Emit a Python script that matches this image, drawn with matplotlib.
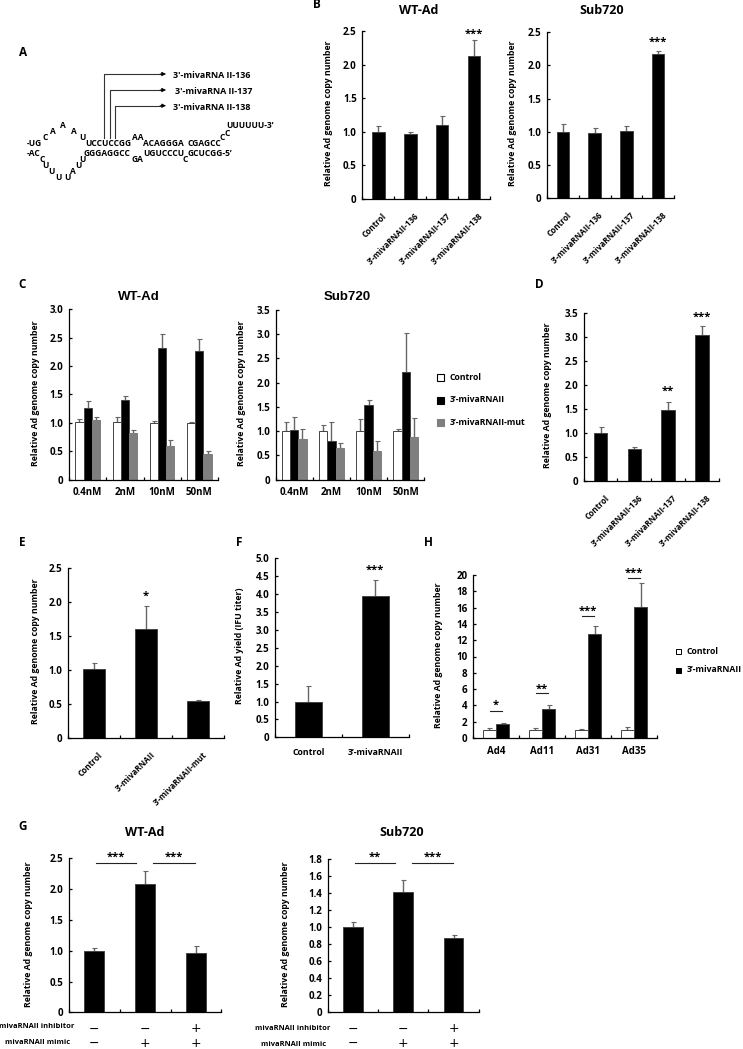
#!/usr/bin/env python3

import matplotlib
matplotlib.use("Agg")
import matplotlib.pyplot as plt
import numpy as np

W, H = 743, 1049
FS = 7.0
LABEL_FS = 6.3
ROT_FS = 5.9
RNA_FS = 6.0
STAR_FS = 8.0
LEGEND_FS = 6.2
GREY = "#7f7f7f"

plt.rcParams["font.family"] = ["Open Sans", "DejaVu Sans"]
plt.rcParams["font.weight"] = "bold"
plt.rcParams["axes.labelweight"] = "bold"
plt.rcParams["font.size"] = FS

mir_labels = ["Control", "3’-mivaRNAII-136", "3’-mivaRNAII-137", "3’-mivaRNAII-138"]
conc_labels = ["0.4nM", "2nM", "10nM", "50nM"]
ad_labels = ["Ad4", "Ad11", "Ad31", "Ad35"]
e_labels = ["Control", "3’-mivaRNAII", "3’-mivaRNAII-mut"]
f_labels = ["Control", "3’-mivaRNAII"]

b_wt = [1.0, 0.97, 1.10, 2.12]
b_wt_top = [1.09, 1.0, 1.24, 2.36]
b_sub = [1.0, 0.98, 1.01, 2.17]
b_sub_top = [1.11, 1.05, 1.08, 2.22]

c_wt_ctrl = [1.01, 1.01, 1.0, 1.0]
c_wt_ctrl_top = [1.06, 1.10, 1.04, 1.01]
c_wt_miva = [1.26, 1.41, 2.32, 2.27]
c_wt_miva_top = [1.39, 1.48, 2.56, 2.47]
c_wt_mut = [1.05, 0.82, 0.59, 0.46]
c_wt_mut_top = [1.11, 0.88, 0.70, 0.50]

c_sub_ctrl = [1.0, 1.0, 1.0, 1.0]
c_sub_ctrl_top = [1.18, 1.12, 1.25, 1.05]
c_sub_miva = [1.03, 0.79, 1.55, 2.22]
c_sub_miva_top = [1.30, 1.19, 1.65, 3.03]
c_sub_mut = [0.83, 0.65, 0.60, 0.89]
c_sub_mut_top = [1.05, 0.75, 0.80, 1.28]

d_vals = [1.0, 0.68, 1.48, 3.05]
d_top = [1.13, 0.72, 1.64, 3.24]
e_vals = [1.01, 1.6, 0.55]
e_top = [1.11, 1.95, 0.56]
f_vals = [1.0, 3.95]
f_top = [1.43, 4.38]

h_ctrl = [1.0, 1.0, 1.0, 1.0]
h_ctrl_top = [1.2, 1.2, 1.15, 1.3]
h_miva = [1.7, 3.5, 12.8, 16.1]
h_miva_top = [1.9, 4.0, 13.8, 19.0]

g_wt = [1.0, 2.09, 0.97]
g_wt_top = [1.04, 2.29, 1.07]
g_sub = [1.0, 1.41, 0.87]
g_sub_top = [1.06, 1.55, 0.91]
g_inhibitor = ["−", "−", "+"]
g_mimic = ["−", "+", "+"]

fig = plt.figure(figsize=(W / 100, H / 100), dpi=100, facecolor="white")

# overlay in image pixels, for the panel letters and the RNA sketch
ov = fig.add_axes([0, 0, 1, 1], zorder=5)
ov.set_xlim(0, W)
ov.set_ylim(H, 0)
ov.axis("off")
ov.patch.set_alpha(0)


def make_axes(left, right, top, bottom, ymax, step, ylabel, label_x, labels, ypad=4):
    ax = fig.add_axes([left / W, 1 - bottom / H, (right - left) / W, (bottom - top) / H])
    n = len(labels)
    ax.set_xlim(-0.5, n - 0.5)
    ax.set_ylim(0, ymax)
    ticks = np.arange(0, ymax + step / 2, step)
    ax.set_yticks(ticks)
    ax.set_yticklabels(["0" if t == 0 else (f"{t:.0f}" if step >= 1 else f"{t:.1f}") for t in ticks])
    ax.set_xticks(np.arange(n + 1) - 0.5)
    ax.set_xticklabels([])
    ax.tick_params(axis="both", direction="in", length=2.5, width=0.9, pad=ypad)
    ax.spines[["top", "right"]].set_visible(False)
    ax.spines[["left", "bottom"]].set_linewidth(0.9)
    ax.set_ylabel(ylabel, fontsize=LABEL_FS)
    ax.yaxis.set_label_coords((label_x - left) / (right - left), 0.51)
    return ax


def bars(ax, x, vals, tops, width, color="black", edge="#444444"):
    err = np.array(tops) - np.array(vals)
    ax.bar(x, vals, width, color=color, edgecolor=edge, linewidth=0.7, zorder=2)
    ax.errorbar(x, vals, yerr=[np.zeros_like(err), err], fmt="none", ecolor="#666666",
                elinewidth=1.0, capsize=1.8, capthick=0.8, zorder=1)


def rot_labels(ax, labels):
    for i, s in enumerate(labels):
        ax.annotate(s, (i, 0), xytext=(3, -9), textcoords="offset points", xycoords=("data", "axes fraction"),
                    rotation=45, ha="right", va="top", rotation_mode="anchor", fontsize=ROT_FS)


def flat_labels(ax, labels, offset=-9, fs=FS):
    for i, s in enumerate(labels):
        ax.annotate(s, (i, 0), xytext=(0, offset), textcoords="offset points", xycoords=("data", "axes fraction"),
                    ha="center", va="center", fontsize=fs)


def stars(ax, x, y, s):
    # asterisks sit high in the glyph box, nudge them down to the read position
    ax.annotate(s, (x, y), xytext=(0, -1.5), textcoords="offset points", ha="center", va="center",
                fontsize=STAR_FS, annotation_clip=False)


def sig_line(ax, x0, x1, y):
    ax.plot([x0, x1], [y, y], color="#222222", lw=0.8, clip_on=False)


YL = "Relative Ad genome copy number"

# B
ax = make_axes(362.3, 490, 31, 198.7, 2.5, 0.5, YL, 332.7, mir_labels)
bars(ax, range(4), b_wt, b_wt_top, 0.4)
rot_labels(ax, mir_labels)
stars(ax, 3, 2.49, "***")

ax = make_axes(547, 674, 32.3, 198, 2.5, 0.5, YL, 517, mir_labels)
bars(ax, range(4), b_sub, b_sub_top, 0.4)
rot_labels(ax, mir_labels)
stars(ax, 3, 2.38, "***")

# C
x4 = np.arange(4)
ax = make_axes(69, 218, 309.3, 479.7, 3.0, 0.5, YL, 40, conc_labels)
bars(ax, x4 - 0.22, c_wt_ctrl, c_wt_ctrl_top, 0.22, "white")
bars(ax, x4, c_wt_miva, c_wt_miva_top, 0.22)
bars(ax, x4 + 0.22, c_wt_mut, c_wt_mut_top, 0.22, GREY, GREY)
flat_labels(ax, conc_labels)

ax = make_axes(275.7, 424.3, 310, 479.7, 3.5, 0.5, YL, 246, conc_labels)
bars(ax, x4 - 0.22, c_sub_ctrl, c_sub_ctrl_top, 0.22, "white")
bars(ax, x4, c_sub_miva, c_sub_miva_top, 0.22)
bars(ax, x4 + 0.22, c_sub_mut, c_sub_mut_top, 0.22, GREY, GREY)
flat_labels(ax, conc_labels)

# D
ax = make_axes(583.7, 718.7, 313, 481.3, 3.5, 0.5, YL, 552, mir_labels)
bars(ax, range(4), d_vals, d_top, 0.4)
rot_labels(ax, mir_labels)
stars(ax, 2, 1.91, "**")
stars(ax, 3, 3.46, "***")

# E
ax = make_axes(68, 224.3, 568.3, 738, 2.5, 0.5, YL, 40, e_labels)
bars(ax, range(3), e_vals, e_top, 0.42)
rot_labels(ax, e_labels)
stars(ax, 1, 2.12, "*")

# F
ax = make_axes(274.7, 408.7, 558.3, 737.3, 5.0, 0.5, "Relative Ad yield (IFU titer)", 243.7, f_labels)
bars(ax, range(2), f_vals, f_top, 0.4)
flat_labels(ax, f_labels, -11, 6.3)
stars(ax, 1, 4.72, "***")

# H
ax = make_axes(473, 657, 575, 738, 20, 2, YL, 442.7, ad_labels)
bars(ax, x4 - 0.145, h_ctrl, h_ctrl_top, 0.29, "white")
bars(ax, x4 + 0.145, h_miva, h_miva_top, 0.29)
flat_labels(ax, ad_labels, -10)
for i, (line_y, star_y, s) in enumerate([(3.3, 4.3, "*"), (5.5, 6.3, "**"), (15.0, 15.8, "***"), (19.6, 20.5, "***")]):
    sig_line(ax, i - 0.14, i + 0.14, line_y)
    stars(ax, i, star_y, s)

# G
for left, right, top, bottom, ymax, step, lab_x, vals, tops, sig, line_y, star_y, x_l, x_r in [
    (69, 221.3, 858.3, 1012.3, 2.5, 0.5, 33, g_wt, g_wt_top, "***", 2.42, 2.55, (0.03, 0.82), (1.16, 1.98)),
    (327.7, 478.7, 859, 1012.3, 1.8, 0.2, 290, g_sub, g_sub_top, "**", 1.75, 1.85, (0.04, 0.83), (1.18, 1.98)),
]:
    ax = make_axes(left, right, top, bottom, ymax, step, YL, lab_x, g_inhibitor)
    bars(ax, range(3), vals, tops, 0.39)
    sig_line(ax, x_l[0], x_l[1], line_y)
    sig_line(ax, x_r[0], x_r[1], line_y)
    stars(ax, sum(x_l) / 2, star_y, sig)
    stars(ax, sum(x_r) / 2, star_y, "***")
    for i in range(3):
        ax.annotate(g_inhibitor[i], (i, 0), xytext=(0, -12), textcoords="offset points",
                    xycoords=("data", "axes fraction"), ha="center", va="center", fontsize=9, family="DejaVu Sans", weight="normal")
        ax.annotate(g_mimic[i], (i, 0), xytext=(0, -22.5), textcoords="offset points",
                    xycoords=("data", "axes fraction"), ha="center", va="center", fontsize=9, family="DejaVu Sans", weight="normal")

# legends, drawn as patches on the overlay
for y, col, edge, s in [(377, "white", "black", "Control"), (400, "black", "black", "3’-mivaRNAII"),
                        (422.7, GREY, GREY, "3’-mivaRNAII-mut")]:
    ov.add_patch(plt.Rectangle((437, y - 3.5), 7, 7, facecolor=col, edgecolor=edge, lw=0.8))
    ov.text(450, y, s, va="center", fontsize=LEGEND_FS)
for y, col, s in [(651.7, "white", "Control"), (670, "black", "3’-mivaRNAII")]:
    ov.add_patch(plt.Rectangle((675.5, y - 2.5), 5, 5, facecolor=col, edgecolor="black", lw=0.7))
    ov.text(686.7, y, s, va="center", fontsize=LEGEND_FS)

# panel letters and titles
for s, x, y in [("A", 23, 52), ("B", 317, 5), ("C", 22, 285), ("D", 539, 285), ("E", 22, 543),
                ("F", 239, 543), ("H", 428, 543), ("G", 23, 827)]:
    ov.text(x, y, s, ha="center", va="center", fontsize=8.5)
for s, x, y in [("WT-Ad", 419, 10), ("Sub720", 602, 10), ("WT-Ad", 145, 832), ("Sub720", 402, 832)]:
    ov.text(x, y, s, ha="center", va="center", fontsize=9)
for s, x, y in [("WT-Ad", 139, 297), ("Sub720", 347, 297)]:
    ov.text(x, y, s, ha="center", va="center", fontsize=9.5, family="Liberation Sans")

# G row labels
for x, s, y in [(74, "mivaRNAII inhibitor", 1026.7), (69.7, "mivaRNAII mimic", 1042.7),
                (330.7, "mivaRNAII inhibitor", 1028), (326, "mivaRNAII mimic", 1044)]:
    ov.text(x, y, s, ha="right", va="center", fontsize=5.4)

# panel A
rna_left = [("-UG", 27, 143), ("UCCUCCGG", 85, 143), ("AA", 132, 138), ("ACAGGGA", 143, 143), ("CGAGCC", 187, 143),
            ("UUUUUU-3’", 226, 125), ("-AC", 27, 154), ("GGGAGGCC", 84, 154), ("GA", 132, 160), ("UGUCCCU", 143, 154),
            ("GCUCGG-5’", 187, 154)]
rna_single = [("C", 45, 137), ("A", 53, 131), ("A", 63, 126), ("A", 74, 132), ("U", 82, 137), ("C", 222, 138), ("C", 227, 133),
              ("C", 42, 159), ("U", 45, 166), ("U", 51, 171), ("U", 58, 177), ("U", 67, 177), ("A", 73, 172), ("U", 78, 165),
              ("U", 82, 159), ("C", 185, 159)]
for s, x, y in rna_left:
    ov.text(x, y, s, ha="left", va="center", fontsize=RNA_FS)
for s, x, y in rna_single:
    ov.text(x, y, s, ha="center", va="center", fontsize=RNA_FS)
for s, x, y, tx in [("3'-mivaRNA II-136", 104.3, 74, 173), ("3'-mivaRNA II-137", 109.7, 90, 175),
                    ("3'-mivaRNA II-138", 115, 105.7, 173)]:
    ov.plot([x, x, 162], [137.7, y, y], color="#333333", lw=0.8)
    ov.annotate("", xy=(166, y), xytext=(160, y), arrowprops=dict(arrowstyle="-|>", color="black", lw=0.6, mutation_scale=6, shrinkA=0, shrinkB=0))
    ov.text(tx, y + 1.3, s, ha="left", va="center", fontsize=6.4)

fig.savefig("out.png", dpi=100)
